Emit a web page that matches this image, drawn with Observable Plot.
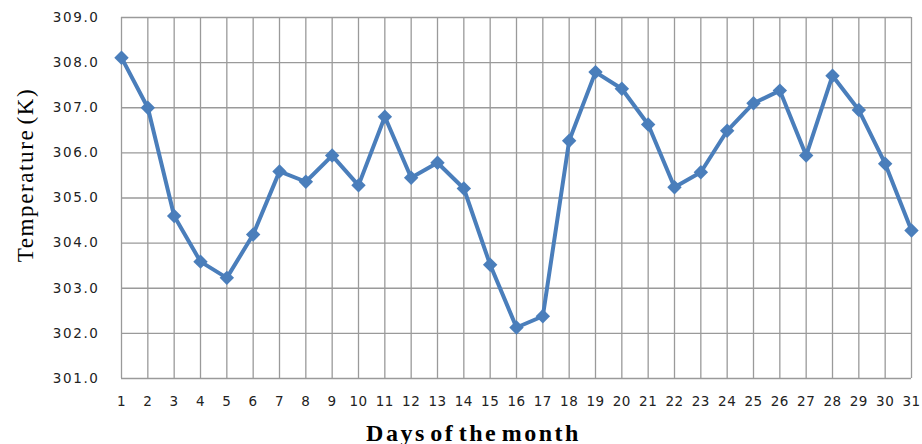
<!DOCTYPE html>
<html>
<head>
<meta charset="utf-8">
<script src="https://cdn.jsdelivr.net/npm/d3@7"></script>
<script src="https://cdn.jsdelivr.net/npm/@observablehq/plot@0.6"></script>
<style>
  html, body { margin: 0; padding: 0; background: #fff; }
  g[aria-label="y-axis tick label"] text { letter-spacing: 1.6px; }
  g[aria-label="x-axis tick label"] text { letter-spacing: 0.5px; }
</style>
</head>
<body>
<div id="chart"></div>
<script>
const days = d3.range(1, 32);
const temperatures = [
  308.11, 307.00, 304.60, 303.59, 303.23, 304.19, 305.59, 305.36, 305.94, 305.28,
  306.80, 305.45, 305.78, 305.21, 303.52, 302.13, 302.38, 306.27, 307.79, 307.42,
  306.63, 305.24, 305.57, 306.49, 307.10, 307.38, 305.94, 307.71, 306.95, 305.76,
  304.28
];
const yTicks = [301, 302, 303, 304, 305, 306, 307, 308, 309];
const xTitle = "Days of the month";
const yTitle = "Temperature (K)";

const data = days.map((d, i) => ({day: d, temp: temperatures[i]}));
const color = "#4a7ebb";
const grid = "#9a9a9a";

const chart = Plot.plot({
  width: 922,
  height: 444,
  marginLeft: 121,
  marginRight: 11,
  marginTop: 17,
  marginBottom: 66,
  style: {background: "#fff", overflow: "visible"},
  x: {domain: [1, 31], ticks: days, tickFormat: d => String(d), label: null},
  y: {domain: [301, 309], ticks: yTicks, tickFormat: d => d.toFixed(1), label: null},
  marks: [
    Plot.gridX(days, {stroke: grid, strokeOpacity: 1, strokeWidth: 1.3}),
    Plot.gridY(yTicks, {stroke: grid, strokeOpacity: 1, strokeWidth: 1.3}),
    Plot.axisY(yTicks, {tickSize: 0, tickPadding: 22, fontSize: 13.5, fontFamily: "DejaVu Sans", fill: "#222", tickFormat: d => d.toFixed(1), label: null}),
    Plot.axisX(days, {tickSize: 0, tickPadding: 18, fontSize: 13.5, fontFamily: "DejaVu Sans", fill: "#222", tickFormat: d => String(d), label: null}),
    Plot.line(data, {x: "day", y: "temp", stroke: color, strokeWidth: 4, strokeLinejoin: "round"}),
    Plot.dot(data, {x: "day", y: "temp", symbol: "diamond2", r: 6.5, fill: color, stroke: null}),
    Plot.text([xTitle], {frameAnchor: "bottom", dx: -43, dy: 62, fontSize: 24, fontWeight: "bold", fontFamily: "Liberation Serif", fill: "#000", textAnchor: "middle"}),
    Plot.text([yTitle], {frameAnchor: "left", dx: -96, dy: -23, rotate: -90, textAnchor: "middle", fontSize: 23, fontFamily: "Liberation Serif", fill: "#000"})
  ]
});
d3.select(chart).selectAll("text")
  .filter(function() { return this.textContent === xTitle; })
  .style("letter-spacing", "2.5px").style("word-spacing", "-5px");
d3.select(chart).selectAll("text")
  .filter(function() { return this.textContent === yTitle; })
  .style("letter-spacing", "1.6px").style("word-spacing", "-3px");
document.getElementById("chart").appendChild(chart);
</script>
</body>
</html>
